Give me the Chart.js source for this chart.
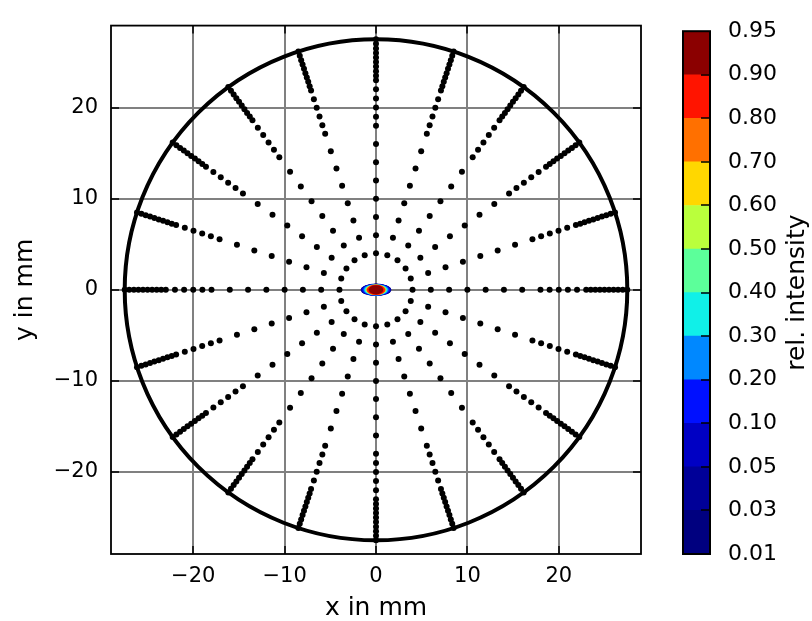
<!DOCTYPE html>
<html><head><meta charset="utf-8">
<script src="https://cdn.jsdelivr.net/npm/chart.js@4.4.1/dist/chart.umd.min.js"></script>
<style>
html,body{margin:0;padding:0;background:#fff;}
#wrap{position:relative;width:812px;height:621px;overflow:hidden;}
#main{position:absolute;left:0;top:0;}
#cbar{position:absolute;left:660px;top:0;}
</style></head><body>
<div id="wrap">
<canvas id="main" width="660" height="621"></canvas>
<canvas id="cbar" width="152" height="621"></canvas>
</div>
<script>
// ---- data ----
const spokeAnglesDeg = [0,18,36,54,72,90,108,126,144,162,180,198,216,234,252,270,288,306,324,342];
const ringRadii = [4,6,8,10,12,14,16,18,19,20,21,22,23,23.5,24,24.5,25,25.5,26,26.5,27,27.5];
const apertureRadius = 27.5;
const xTickValues = [-20,-10,0,10,20];
const yTickValues = [-20,-10,0,10,20];
// central spot contour levels (outer to inner), semi-axes in mm
const spotLevels = [0.01,0.03,0.05,0.10,0.20,0.30,0.50,0.70,0.80,0.90];
const spotSemiX  = [1.68,1.64,1.58,1.48,1.36,1.26,1.14,1.06,0.98,0.80];
const spotSemiY  = [0.68,0.67,0.66,0.64,0.62,0.60,0.58,0.57,0.56,0.51];
const spotColors = ['#00008a','#0000a8','#0000d0','#0018ff','#0090ff','#20f0e0','#b8ff40','#ff7000','#ff1400','#8c0000'];
// colour bar
const cbLabels = ['0.01','0.03','0.05','0.10','0.20','0.30','0.40','0.50','0.60','0.70','0.80','0.90','0.95'];
const cbColors = ['#00007f','#000098','#0000c4','#0010ff','#0088ff','#10f0e8','#5cff9a','#baff3c','#ffd700','#ff7000','#ff1400','#8b0000'];

// ---- build points from polar grid ----
const pts = [];
for (const a of spokeAnglesDeg) {
  const t = a * Math.PI / 180;
  for (const r of ringRadii) pts.push({x: r * Math.cos(t), y: r * Math.sin(t)});
}

const FONT = 'DejaVu Sans';
const fmt = v => v < 0 ? '\u2212' + Math.abs(v) : String(v);

const decor = {
  id: 'decor',
  beforeDatasetsDraw(chart) {
    const {ctx, scales: {x, y}, chartArea: ca} = chart;
    ctx.save();
    ctx.beginPath(); ctx.rect(ca.left, ca.top, ca.width, ca.height); ctx.clip();
    const cx = x.getPixelForValue(0), cy = y.getPixelForValue(0);
    for (let i = 0; i < spotLevels.length; i++) {
      const rx = x.getPixelForValue(spotSemiX[i]) - cx;
      const ry = cy - y.getPixelForValue(spotSemiY[i]);
      ctx.beginPath(); ctx.ellipse(cx, cy, rx, ry, 0, 0, Math.PI * 2);
      ctx.fillStyle = spotColors[i]; ctx.fill();
    }
    const R = x.getPixelForValue(apertureRadius) - cx;
    const Ry = cy - y.getPixelForValue(apertureRadius);
    ctx.beginPath(); ctx.ellipse(cx, cy, R, Ry, 0, 0, Math.PI * 2);
    ctx.lineWidth = 4; ctx.strokeStyle = '#000'; ctx.stroke();
    ctx.restore();
  },
  afterDraw(chart) {
    const {ctx, scales: {x, y}, chartArea: ca} = chart;
    ctx.save();
    ctx.strokeStyle = '#000'; ctx.lineWidth = 1.5;
    const L = 8;
    ctx.beginPath();
    for (const v of xTickValues) {
      const px = Math.round(x.getPixelForValue(v));
      ctx.moveTo(px, ca.bottom); ctx.lineTo(px, ca.bottom - L);
      ctx.moveTo(px, ca.top); ctx.lineTo(px, ca.top + L);
    }
    for (const v of yTickValues) {
      const py = Math.round(y.getPixelForValue(v));
      ctx.moveTo(ca.left, py); ctx.lineTo(ca.left + L, py);
      ctx.moveTo(ca.right, py); ctx.lineTo(ca.right - L, py);
    }
    ctx.stroke();
    ctx.lineWidth = 1.8;
    ctx.strokeRect(ca.left, ca.top, ca.width, ca.height);
    ctx.restore();
  }
};

new Chart(document.getElementById('main'), {
  type: 'scatter',
  data: { datasets: [{ data: pts, backgroundColor: '#000', borderWidth: 0, pointRadius: 3, pointHoverRadius: 3 }] },
  options: {
    responsive: false, animation: false, events: [],
    layout: { padding: { left: 0, right: 19, top: 25, bottom: 0 } },
    plugins: { legend: { display: false }, tooltip: { enabled: false } },
    scales: {
      x: {
        type: 'linear', min: -29, max: 29,
        afterBuildTicks: s => { s.ticks = xTickValues.map(v => ({value: v})); },
        afterFit: s => { s.height = 67; },
        grid: { color: '#808080', lineWidth: 2, drawTicks: false },
        border: { display: false },
        ticks: { padding: 10, color: '#000', font: { family: FONT, size: 21 }, callback: fmt, maxRotation: 0, autoSkip: false },
        title: { display: true, text: 'x in mm', color: '#000', font: { family: FONT, size: 25 }, padding: { top: 0, bottom: -2 } }
      },
      y: {
        type: 'linear', min: -29, max: 29,
        afterBuildTicks: s => { s.ticks = yTickValues.map(v => ({value: v})); },
        afterFit: s => { s.width = 111; },
        grid: { color: '#808080', lineWidth: 2, drawTicks: false },
        border: { display: false },
        ticks: { padding: 13, color: '#000', font: { family: FONT, size: 21 }, callback: fmt, autoSkip: false },
        title: { display: true, text: 'y in mm', color: '#000', font: { family: FONT, size: 25 }, padding: { top: 10, bottom: 0 } }
      }
    }
  },
  plugins: [decor]
});

// ---- colour bar ----
const cbDecor = {
  id: 'cbDecor',
  afterDraw(chart) {
    const {ctx, scales: {y}, chartArea: ca} = chart;
    ctx.save();
    ctx.strokeStyle = '#000'; ctx.lineWidth = 1.5;
    ctx.beginPath();
    for (let i = 1; i < cbLabels.length - 1; i++) {
      const py = Math.round(y.getPixelForValue(i));
      ctx.moveTo(ca.right, py); ctx.lineTo(ca.right - 9, py);
    }
    ctx.stroke();
    ctx.lineWidth = 2;
    ctx.strokeRect(ca.left, ca.top, ca.width, ca.height);
    ctx.translate(137, (ca.top + ca.bottom) / 2);
    ctx.rotate(-Math.PI / 2);
    ctx.fillStyle = '#000'; ctx.font = '25px "' + FONT + '"';
    ctx.textAlign = 'center'; ctx.textBaseline = 'middle';
    ctx.fillText('rel. intensity', 0, 0);
    ctx.restore();
  }
};

new Chart(document.getElementById('cbar'), {
  type: 'bar',
  data: {
    labels: [''],
    datasets: cbColors.map((c, i) => ({ label: cbLabels[i], data: [1], backgroundColor: c, borderWidth: 0, categoryPercentage: 1, barPercentage: 1 }))
  },
  options: {
    responsive: false, animation: false, events: [],
    layout: { padding: { left: 23, right: 0, top: 25, bottom: 67 } },
    plugins: { legend: { display: false }, tooltip: { enabled: false } },
    scales: {
      x: { stacked: true, display: false },
      y: {
        stacked: true, position: 'right', min: 0, max: cbColors.length,
        afterBuildTicks: s => { s.ticks = cbLabels.map((_, i) => ({value: i})); },
        afterFit: s => { s.width = 102; },
        grid: { display: false, drawTicks: false }, border: { display: false },
        ticks: { padding: 18, color: '#000', font: { family: FONT, size: 22 }, callback: (v, i) => cbLabels[i], autoSkip: false }
      }
    }
  },
  plugins: [cbDecor]
});
</script>
</body></html>
